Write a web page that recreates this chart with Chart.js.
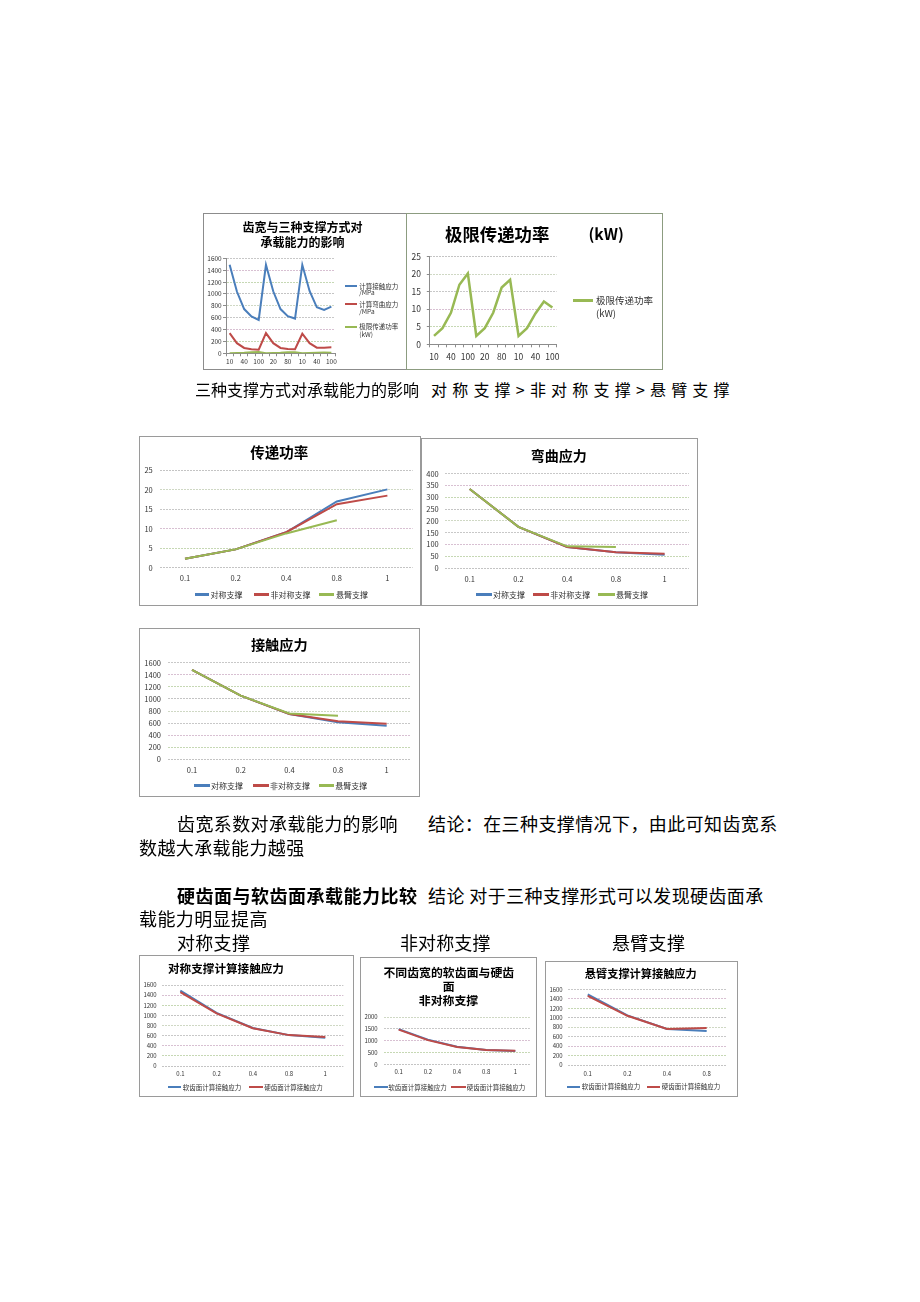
<!DOCTYPE html>
<html><head><meta charset="utf-8">
<script src="https://cdn.jsdelivr.net/npm/chart.js@4.4.1/dist/chart.umd.min.js"></script>
<style>
html,body{margin:0;padding:0;background:#fff;}
body{width:920px;height:1302px;position:relative;overflow:hidden;font-family:"Noto Sans CJK SC","Noto Sans",sans-serif;}
.t{position:absolute;white-space:nowrap;color:#000;}
.frame{position:absolute;box-sizing:border-box;border:1px solid #8c8c8c;pointer-events:none;}
canvas{position:absolute;}
.lg{position:absolute;}
</style></head><body>
<script>
// ---------- data ----------
const groupLabels = ['10','20','40','80','100','10','20','40','80','100','10','20','40','80','100'];
const groupContact = [1490,1040,745,620,562,1490,1045,745,625,585,1490,1050,775,730,785];
const groupBending = [340,170,90,70,60,340,170,90,72,68,330,170,95,95,100];
const groupPower = [2.4,4.6,9.0,17.0,20.2,2.4,4.6,9.0,16.2,18.4,2.4,4.6,8.8,12.2,10.5];

const widthLabels = ['0.1','0.2','0.4','0.8','1'];
const widthLabelsCant = ['0.1','0.2','0.4','0.8'];

const powerSym = [2.3,4.7,9.1,17.0,20.1];
const powerAsym = [2.3,4.7,9.1,16.3,18.5];
const powerCant = [2.3,4.7,8.8,12.2];

const bendSym = [335,175,90,68,57];
const bendAsym = [335,175,90,68,62];
const bendCant = [335,175,93,90];

const contactSym = [1480,1055,750,612,557];
const contactAsym = [1480,1055,750,630,588];
const contactCant = [1480,1055,760,723];

const softSym = [1490,1050,750,610,560];
const hardSym = [1460,1040,745,610,575];
const softAsym = [1490,1050,750,620,570];
const hardAsym = [1470,1030,740,620,590];
const softCant = [1490,1050,760,720];
const hardCant = [1460,1040,760,780];

const BLUE='#4a7ebb', RED='#be4b48', GREEN='#98b954';
const FONT="'Noto Sans CJK SC','Noto Sans',sans-serif";
const GRID=['#c4c4c4','#c6d8b4','#d8c0d2','#c8c8c8','#cfd8c4'];

// ---------- helpers ----------
function txt(s,x,cy,fs,o){
  o=o||{};
  const d=document.createElement('div');
  d.className='t';
  d.textContent=s;
  d.style.left=x+'px';
  d.style.top=(cy-fs/2)+'px';
  d.style.fontSize=fs+'px';
  d.style.lineHeight=fs+'px';
  if(o.bold) d.style.fontWeight='bold';
  if(o.color) d.style.color=o.color;
  if(o.ls!=null) d.style.letterSpacing=o.ls+'px';
  document.body.appendChild(d);
  return d;
}
function ctxt(s,cx,cy,fs,o){
  o=o||{};
  const d=document.createElement('div');
  d.className='t';
  d.textContent=s;
  d.style.left=(cx-200)+'px';
  d.style.width='400px';
  d.style.textAlign='center';
  d.style.top=(cy-fs/2)+'px';
  d.style.fontSize=fs+'px';
  d.style.lineHeight=fs+'px';
  if(o.bold) d.style.fontWeight='bold';
  d.style.color=o.color||'#000';
  document.body.appendChild(d);
}
function lgLine(x1,x2,y,color,lw){
  const d=document.createElement('div');
  d.className='lg';
  d.style.left=x1+'px';d.style.width=(x2-x1)+'px';
  d.style.top=(y-lw/2)+'px';d.style.height=lw+'px';
  d.style.background=color;
  document.body.appendChild(d);
}
function frame(x,y,w,h,color){
  const d=document.createElement('div');
  d.className='frame';
  d.style.left=x+'px';d.style.top=y+'px';d.style.width=w+'px';d.style.height=h+'px';
  if(color) d.style.borderColor=color;
  document.body.appendChild(d);
}
function chart(cfg){
  const box=cfg.box, p=cfg.plot;
  const cv=document.createElement('canvas');
  cv.width=box.w;cv.height=box.h;
  cv.style.left=box.x+'px';cv.style.top=box.y+'px';
  cv.style.width=box.w+'px';cv.style.height=box.h+'px';
  document.body.appendChild(cv);
  const L=p.l-box.x, T=p.t-box.y, R=p.r-box.x, B=p.b-box.y;
  const ax=!!cfg.axisTicks;
  const tl=ax?3:0;
  new Chart(cv,{
    type:'line',
    data:{labels:cfg.labels,datasets:cfg.datasets.map(d=>({label:d.label,data:d.data,borderColor:d.color,backgroundColor:d.color,borderWidth:cfg.lw,pointRadius:0,tension:0,fill:false,order:d.order||0}))},
    options:{
      responsive:false,animation:false,devicePixelRatio:1,
      layout:{padding:{left:0,top:T,right:box.w-R,bottom:0}},
      plugins:{legend:{display:false},title:{display:false},tooltip:{enabled:false}},
      scales:{
        x:{type:'category',offset:true,
          afterFit:s=>{s.height=box.h-B;},
          grid:{display:ax,drawOnChartArea:false,drawTicks:ax,tickLength:3,color:'#8c8c8c',tickColor:'#8c8c8c',offset:true},
          border:{display:ax,color:'#8c8c8c'},
          ticks:{autoSkip:false,maxRotation:0,minRotation:0,padding:cfg.labelY-p.b-tl-0.6*cfg.tfs,font:{size:cfg.tfs,family:FONT},color:'#333',
            callback:function(v,i){const l=this.getLabelForValue(v);return cfg.every?(i%cfg.every===0?l:''):l;}}
        },
        y:{min:0,max:cfg.ymax,
          afterFit:s=>{s.width=L;},
          ticks:{stepSize:cfg.step,autoSkip:false,padding:p.l-tl-cfg.labelR,font:{size:cfg.tfs,family:FONT},color:'#333',
            callback:v=>String(v)},
          grid:{color:c=>GRID[c.index%GRID.length],lineWidth:1,drawTicks:ax,tickLength:3,tickColor:'#8c8c8c'},
          border:{display:ax,color:'#8c8c8c',dash:[2,1]}
        }
      }
    }
  });
}

// ---------- chart 1 ----------
chart({box:{x:203,y:213,w:203,h:157},plot:{l:226,t:258.3,r:335,b:353.3},labels:groupLabels,every:2,axisTicks:true,
  ymax:1600,step:200,tfs:6.5,labelY:361.7,labelR:221.7,lw:2,
  datasets:[{label:'计算接触应力/MPa',data:groupContact,color:BLUE},{label:'计算弯曲应力/MPa',data:groupBending,color:RED},{label:'极限传递功率(kW)',data:groupPower,color:GREEN}]});
frame(203,213,204,157,'#8c8c8c');
ctxt('齿宽与三种支撑方式对',302.5,226.5,12,{bold:true});
ctxt('承载能力的影响',302.5,242,12,{bold:true});
lgLine(345,357,286,BLUE,2); txt('计算接触应力',359.3,286,6.5,{color:'#333'}); txt('/MPa',359.3,292.5,6.5,{color:'#333'});
lgLine(345,357,304.3,RED,2); txt('计算弯曲应力',359.3,304.3,6.5,{color:'#333'}); txt('/MPa',359.3,310.8,6.5,{color:'#333'});
lgLine(345,357,326.7,GREEN,2); txt('极限传递功率',359.3,326.7,6.5,{color:'#333'}); txt('(kW)',359.3,334.5,6.5,{color:'#333'});

// ---------- chart 2 ----------
chart({box:{x:406,y:213,w:257,h:157},plot:{l:429.8,t:256.7,r:556.6,b:344.3},labels:groupLabels,every:2,axisTicks:true,
  ymax:25,step:5,tfs:8.5,labelY:356.7,labelR:421,lw:2.5,
  datasets:[{label:'极限传递功率(kW)',data:groupPower,color:GREEN}]});
frame(406,213,257,157,'#8c9c80');
txt('极限传递功率',445,233.5,17.4,{bold:true});
txt('(kW)',588.5,234,15.5,{bold:true});
lgLine(573,593,300.7,GREEN,2.5); txt('极限传递功率',596,300.7,9.5,{color:'#333'}); txt('(kW)',596,314,9.5,{color:'#333'});

// text line
txt('三种支撑方式对承载能力的影响',195,389,16);
txt('对称支撑>非对称支撑>悬臂支撑',431,389,16,{ls:5.2});

// ---------- chart 3 ----------
chart({box:{x:139,y:436,w:282,h:170},plot:{l:159.7,t:470.3,r:412.7,b:567.7},labels:widthLabels,
  ymax:25,step:5,tfs:7.5,labelY:577.7,labelR:152.7,lw:2,
  datasets:[{label:'对称支撑',data:powerSym,color:BLUE,order:2},{label:'非对称支撑',data:powerAsym,color:RED,order:1},{label:'悬臂支撑',data:powerCant,color:GREEN,order:0}]});
frame(139,436,282,170,'#9a9a9a');
ctxt('传递功率',279.3,452,14.5,{bold:true});
lgLine(195.3,209.3,594.7,BLUE,2.5); txt('对称支撑',210.5,594.7,8,{color:'#333'});
lgLine(254.3,269.3,594.7,RED,2.5); txt('非对称支撑',270.5,594.7,8,{color:'#333'});
lgLine(319.3,334.3,594.7,GREEN,2.5); txt('悬臂支撑',336,594.7,8,{color:'#333'});

// ---------- chart 4 ----------
chart({box:{x:421,y:438,w:277,h:168},plot:{l:445.3,t:473.7,r:689,b:568.3},labels:widthLabels,
  ymax:400,step:50,tfs:7.5,labelY:579.3,labelR:438.7,lw:2,
  datasets:[{label:'对称支撑',data:bendSym,color:BLUE,order:2},{label:'非对称支撑',data:bendAsym,color:RED,order:1},{label:'悬臂支撑',data:bendCant,color:GREEN,order:0}]});
frame(421,438,277,168,'#9a9a9a');
ctxt('弯曲应力',558.8,455.3,14,{bold:true});
lgLine(476.3,492,594.7,BLUE,2.5); txt('对称支撑',493,594.7,8,{color:'#333'});
lgLine(533,549,594.7,RED,2.5); txt('非对称支撑',550.3,594.7,8,{color:'#333'});
lgLine(598,614.7,594.7,GREEN,2.5); txt('悬臂支撑',616,594.7,8,{color:'#333'});

// ---------- chart 5 ----------
chart({box:{x:139,y:628,w:281,h:169},plot:{l:167.7,t:662.7,r:411,b:759.3},labels:widthLabels,
  ymax:1600,step:200,tfs:7.5,labelY:770,labelR:161,lw:2,
  datasets:[{label:'对称支撑',data:contactSym,color:BLUE,order:2},{label:'非对称支撑',data:contactAsym,color:RED,order:1},{label:'悬臂支撑',data:contactCant,color:GREEN,order:0}]});
frame(139,628,281,169,'#9a9a9a');
ctxt('接触应力',279.3,644.3,14.2,{bold:true});
lgLine(194.3,210,785.7,BLUE,2.5); txt('对称支撑',211,785.7,8,{color:'#333'});
lgLine(252.7,268.7,785.7,RED,2.5); txt('非对称支撑',270,785.7,8,{color:'#333'});
lgLine(318.7,334.3,785.7,GREEN,2.5); txt('悬臂支撑',335.3,785.7,8,{color:'#333'});

// paragraphs
txt('齿宽系数对承载能力的影响',177,823,18,{ls:0.4});
txt('结论：在三种支撑情况下，由此可知齿宽系',428,823,18,{ls:0.4});
txt('数越大承载能力越强',139,847,18,{ls:0.4});
txt('硬齿面与软齿面承载能力比较',177,895,18,{ls:0.5,bold:true});
txt('结论 对于三种支撑形式可以发现硬齿面承',428,895,18,{ls:0.4});
txt('载能力明显提高',139,918,18,{ls:0.4});
txt('对称支撑',177,942,18,{ls:0.3});
txt('非对称支撑',400,942,18,{ls:0.1});
txt('悬臂支撑',612,942,18,{ls:0.3});

// ---------- chart 6 ----------
chart({box:{x:139,y:955,w:215,h:142},plot:{l:162.2,t:985,r:343.4,b:1066},labels:widthLabels,
  ymax:1600,step:200,tfs:6,labelY:1074,labelR:156.7,lw:2,
  datasets:[{label:'软齿面计算接触应力',data:softSym,color:BLUE,order:1},{label:'硬齿面计算接触应力',data:hardSym,color:RED,order:0}]});
frame(139,955,215,142,'#9a9a9a');
ctxt('对称支撑计算接触应力',226,968.3,11.6,{bold:true});
lgLine(167.7,181,1087.3,BLUE,2); txt('软齿面计算接触应力',182.7,1087.3,6.5,{color:'#333'});
lgLine(249.3,262.7,1087.3,RED,2); txt('硬齿面计算接触应力',264.3,1087.3,6.5,{color:'#333'});

// ---------- chart 7 ----------
chart({box:{x:360,y:957,w:177,h:140},plot:{l:384.1,t:1017,r:529.9,b:1064.7},labels:widthLabels,
  ymax:2000,step:500,tfs:6,labelY:1071.3,labelR:377.7,lw:2,
  datasets:[{label:'软齿面计算接触应力',data:softAsym,color:BLUE,order:1},{label:'硬齿面计算接触应力',data:hardAsym,color:RED,order:0}]});
frame(360,957,177,140,'#9a9a9a');
ctxt('不同齿宽的软齿面与硬齿',448.8,972,11.9,{bold:true});
ctxt('面',448.8,985.5,11.9,{bold:true});
ctxt('非对称支撑',448.5,1000.3,11.9,{bold:true});
lgLine(374.3,387.7,1087,BLUE,2); txt('软齿面计算接触应力',388.3,1087,6.5,{color:'#333'});
lgLine(451,466,1087,RED,2); txt('硬齿面计算接触应力',466.7,1087,6.5,{color:'#333'});

// ---------- chart 8 ----------
chart({box:{x:545,y:961,w:193,h:136},plot:{l:567.9,t:989.3,r:726.5,b:1065},labels:widthLabelsCant,
  ymax:1600,step:200,tfs:6,labelY:1073.3,labelR:562.7,lw:2,
  datasets:[{label:'软齿面计算接触应力',data:softCant,color:BLUE,order:1},{label:'硬齿面计算接触应力',data:hardCant,color:RED,order:0}]});
frame(545,961,193,136,'#9a9a9a');
ctxt('悬臂支撑计算接触应力',640.8,973.3,11.2,{bold:true});
lgLine(566.7,580,1086.7,BLUE,2); txt('软齿面计算接触应力',581.7,1086.7,6.5,{color:'#333'});
lgLine(646.7,660,1086.7,RED,2); txt('硬齿面计算接触应力',661.7,1086.7,6.5,{color:'#333'});
</script></body></html>
